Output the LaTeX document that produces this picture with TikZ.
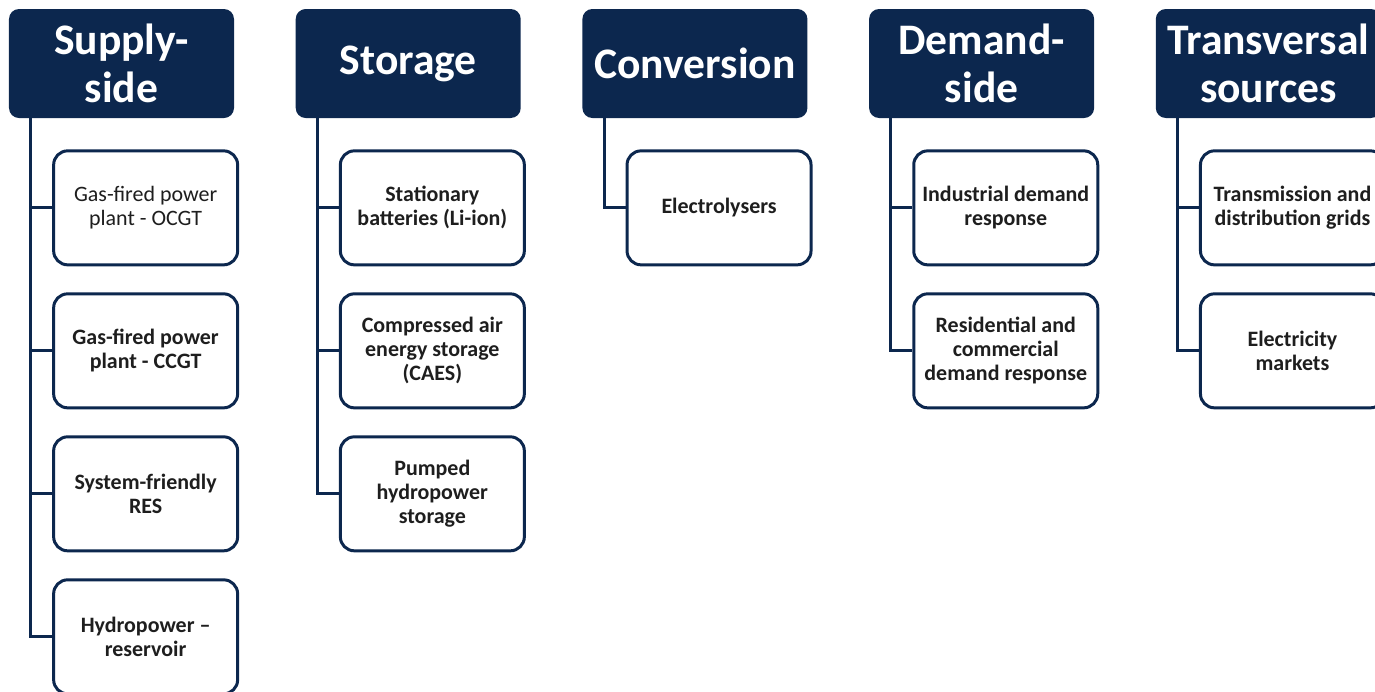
\documentclass[tikz,border=0pt]{standalone}
\usepackage{fontspec}
\setmainfont{Carlito}
\usepackage{xcolor}
\usetikzlibrary{positioning}
\definecolor{navy}{RGB}{12,39,78}
\definecolor{ink}{RGB}{30,30,30}
\tikzset{
  category/.style={
    rectangle,
    rounded corners = 0.2cm,
    fill = navy,
    text = white,
    font = \bfseries\fontsize{24.8}{27.4}\selectfont,
    align = center,
    minimum width = 4.5cm,
    minimum height = 2.18cm,
    inner sep = 0pt,
  },
  option/.style={
    rectangle,
    draw = navy,
    line width = 1.7pt,
    rounded corners = 0.28cm,
    fill = white,
    text = ink,
    font = \bfseries\fontsize{12.5}{13.7}\selectfont,
    align = center,
    minimum width = 3.68cm,
    minimum height = 2.28cm,
    inner sep = 0pt,
  },
  branch/.style={
    draw = navy,
    line width = 1.7pt,
  },
}

\begin{document}
\begin{tikzpicture}[
            node distance = 0.52cm % gap between stacked options
        ]

        \useasboundingbox (0,0) rectangle (27.5,-13.82);

        % category headers
        \node[category] (sup) at (2.43,-1.27) {Supply-\\side};
        \node[category] (sto) [right=1.22cm of sup] {Storage};
        \node[category] (con) [right=1.22cm of sto] {Conversion};
        \node[category] (dem) [right=1.22cm of con] {Demand-\\side};
        \node[category] (tra) [right=1.22cm of dem] {Transversal\\sources};

        % trunk start points
        \coordinate (supT) at ([xshift=0.44cm]sup.south west);
        \coordinate (stoT) at ([xshift=0.44cm]sto.south west);
        \coordinate (conT) at ([xshift=0.44cm]con.south west);
        \coordinate (demT) at ([xshift=0.44cm]dem.south west);
        \coordinate (traT) at ([xshift=0.44cm]tra.south west);

        % supply-side
        \node[option, font=\fontsize{12.5}{13.7}\selectfont] (sup1) [below right=0.62cm and 0.87cm of sup.south west] {Gas-fired power\\plant - OCGT};
        \node[option] (sup2) [below=of sup1] {Gas-fired power\\plant - CCGT};
        \node[option] (sup3) [below=of sup2] {System-friendly\\RES};
        \node[option] (sup4) [below=of sup3] {Hydropower --\\reservoir};

        % storage
        \node[option] (sto1) [below right=0.62cm and 0.87cm of sto.south west] {Stationary\\batteries (Li-ion)};
        \node[option] (sto2) [below=of sto1] {Compressed air\\energy storage\\(CAES)};
        \node[option] (sto3) [below=of sto2] {Pumped\\hydropower\\storage};

        % conversion
        \node[option] (con1) [below right=0.62cm and 0.87cm of con.south west] {Electrolysers};

        % demand-side
        \node[option] (dem1) [below right=0.62cm and 0.87cm of dem.south west] {Industrial demand\\response};
        \node[option] (dem2) [below=of dem1] {Residential and\\commercial\\demand response};

        % transversal sources
        \node[option] (tra1) [below right=0.62cm and 0.87cm of tra.south west] {Transmission and\\distribution grids};
        \node[option] (tra2) [below=of tra1] {Electricity\\markets};

        % branches
        \draw[branch] (supT) |- (sup1.west);
        \draw[branch] (supT) |- (sup2.west);
        \draw[branch] (supT) |- (sup3.west);
        \draw[branch] (supT) |- (sup4.west);

        \draw[branch] (stoT) |- (sto1.west);
        \draw[branch] (stoT) |- (sto2.west);
        \draw[branch] (stoT) |- (sto3.west);

        \draw[branch] (conT) |- (con1.west);

        \draw[branch] (demT) |- (dem1.west);
        \draw[branch] (demT) |- (dem2.west);

        \draw[branch] (traT) |- (tra1.west);
        \draw[branch] (traT) |- (tra2.west);

    \end{tikzpicture}
\end{document}
